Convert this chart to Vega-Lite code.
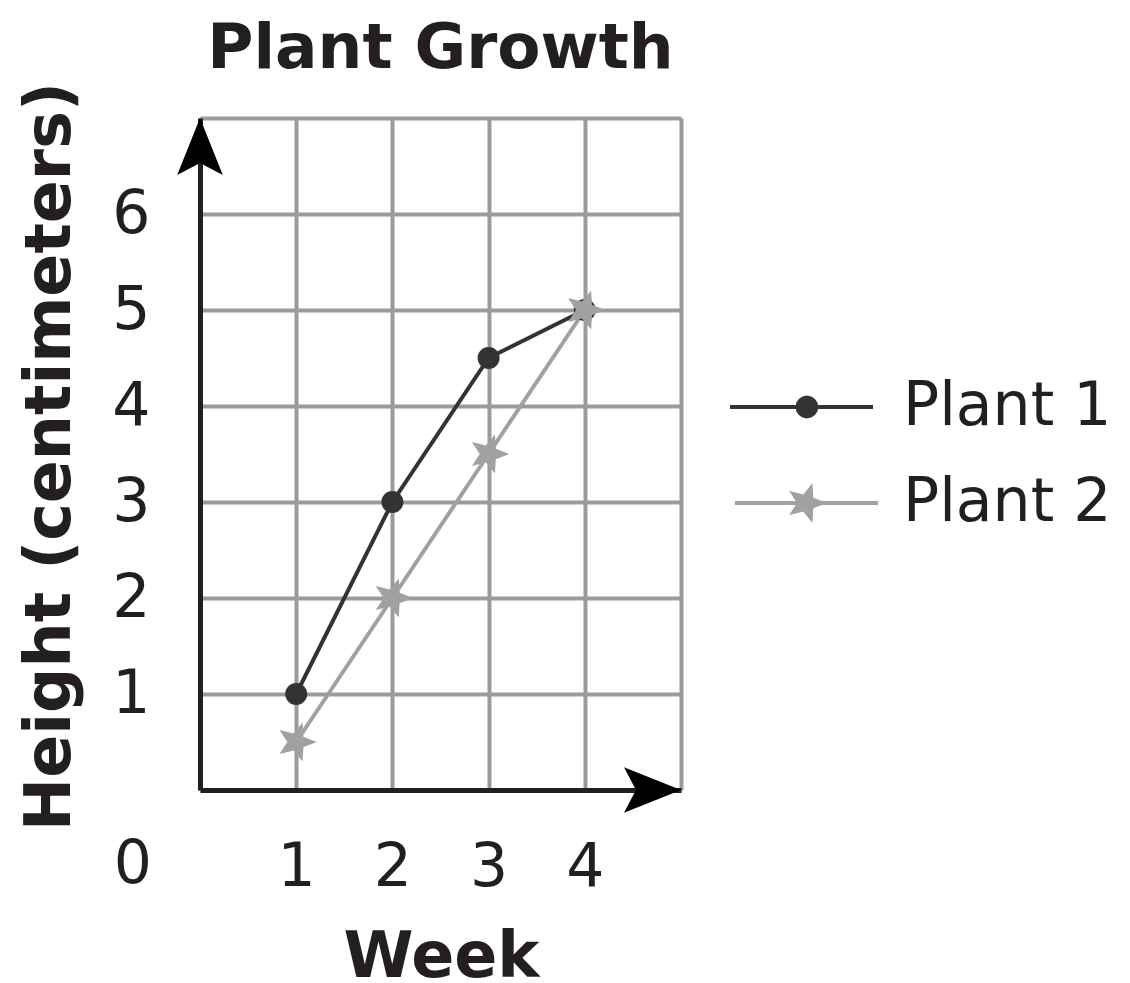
{
  "$schema": "https://vega.github.io/schema/vega-lite/v6.json",
  "width": 481,
  "height": 672,
  "autosize": "none",
  "padding": {"left": 200, "top": 118, "right": 449, "bottom": 193},
  "background": "white",
  "title": {"text": "Plant Growth", "font": "DejaVu Sans", "fontSize": 63, "fontWeight": "bold", "color": "#231f20", "anchor": "middle", "frame": "group", "baseline": "alphabetic", "offset": 18, "dy": 67},
  "config": {"view": {"stroke": null}, "font": "DejaVu Sans"},
  "encoding": {
    "x": {
      "field": "week", "type": "quantitative",
      "scale": {"domain": [0, 5], "nice": false, "zero": false},
      "axis": {
        "values": [0, 1, 2, 3, 4, 5],
        "labelExpr": "datum.value >= 1 && datum.value <= 4 ? datum.label : ''",
        "title": "Week",
        "grid": true, "gridColor": "#9b9b9e", "gridWidth": 4, "gridOpacity": 1,
        "domainColor": "#231f20", "domainWidth": 5,
        "ticks": false, "tickSize": 0,
        "labelPadding": 95, "labelBaseline": "alphabetic", "labelFontSize": 60, "labelColor": "#231f20", "labelFont": "DejaVu Sans",
        "labelFlush": false, "labelOverlap": false,
        "titleFont": "DejaVu Sans", "titleFontSize": 63.5, "titleFontWeight": "bold", "titleColor": "#231f20",
        "titleX": 241, "titleY": 186, "titleBaseline": "alphabetic", "titleAlign": "center"
      }
    },
    "y": {
      "field": "height", "type": "quantitative",
      "scale": {"domain": [0, 7], "nice": false, "zero": false},
      "axis": {
        "values": [0, 1, 2, 3, 4, 5, 6, 7],
        "labelExpr": "datum.value >= 1 && datum.value <= 6 ? datum.label : ''",
        "title": "Height (centimeters)",
        "grid": true, "gridColor": "#9b9b9e", "gridWidth": 4, "gridOpacity": 1,
        "domainColor": "#231f20", "domainWidth": 5,
        "ticks": false, "tickSize": 0,
        "labelPadding": 50, "labelBaseline": "middle", "labelAlign": "right", "labelFontSize": 60, "labelColor": "#231f20", "labelFont": "DejaVu Sans",
        "labelFlush": false, "labelOverlap": false,
        "titleFont": "DejaVu Sans", "titleFontSize": 63.5, "titleFontWeight": "bold", "titleColor": "#231f20",
        "titleX": -150, "titleY": 338, "titleAngle": -90, "titleBaseline": "middle", "titleAlign": "center"
      }
    }
  },
  "layer": [
    {
      "data": {"values": [
        {"week": 1, "height": 1, "plant": "Plant 1"},
        {"week": 2, "height": 3, "plant": "Plant 1"},
        {"week": 3, "height": 4.5, "plant": "Plant 1"},
        {"week": 4, "height": 5, "plant": "Plant 1"},
        {"week": 1, "height": 0.5, "plant": "Plant 2"},
        {"week": 2, "height": 2, "plant": "Plant 2"},
        {"week": 3, "height": 3.5, "plant": "Plant 2"},
        {"week": 4, "height": 5, "plant": "Plant 2"}
      ]},
      "encoding": {
        "color": {
          "field": "plant", "type": "nominal",
          "scale": {"domain": ["Plant 1", "Plant 2"], "range": ["#333333", "#a1a1a4"]},
          "legend": {
            "orient": "none", "legendX": 571.5, "legendY": 259, "title": null, "padding": 0,
            "symbolSize": 3600, "symbolStrokeWidth": 0, "symbolOpacity": 1,
            "labelFontSize": 60, "labelFont": "DejaVu Sans", "labelColor": "#231f20", "labelOffset": 71.5, "labelBaseline": "middle", "labelLimit": 0,
            "rowPadding": 36
          }
        }
      },
      "layer": [
        {"mark": {"type": "line", "strokeWidth": 4}},
        {
          "transform": [{"filter": "datum.plant === 'Plant 1'"}],
          "mark": {"type": "point", "filled": true, "opacity": 1, "shape": "circle", "size": 484}
        },
        {
          "transform": [{"filter": "datum.plant === 'Plant 2'"}],
          "mark": {"type": "point", "filled": true, "opacity": 1, "size": 1700, "shape": "M1,0L0.348,0.253L0.309,0.951L-0.133,0.408L-0.809,0.588L-0.43,0L-0.809,-0.588L-0.133,-0.408L0.309,-0.951L0.348,-0.253Z"}
        },
        {
          "data": {"values": []},
          "mark": {"type": "point", "filled": true, "opacity": 1},
          "encoding": {
            "shape": {
              "field": "plant", "type": "nominal",
              "scale": {"domain": ["Plant 1", "Plant 2"], "range": [
                "M-2.383,-0.067H2.383V0.067H-2.383ZM0.56,0L0.531,0.146L0.449,0.269L0.326,0.351L0.18,0.38L0.034,0.351L-0.089,0.269L-0.171,0.146L-0.2,0L-0.171,-0.146L-0.089,-0.269L0.034,-0.351L0.18,-0.38L0.326,-0.351L0.449,-0.269L0.531,-0.146Z",
                "M-2.217,-0.067H2.55V0.067H-2.217ZM0.85,0L0.393,0.176L0.366,0.666L0.057,0.285L-0.416,0.411L-0.15,0L-0.416,-0.411L0.057,-0.285L0.366,-0.666L0.393,-0.176Z"
              ]},
              "legend": {"title": null}
            }
          }
        }
      ]
    },
    {
      "data": {"values": [{"week": 0, "height": 7}]},
      "mark": {"type": "point", "filled": true, "opacity": 1, "color": "#000000", "strokeWidth": 0, "shape": "M0,0L0.4,1L0,0.79L-0.4,1Z", "size": 12996}
    },
    {
      "data": {"values": [{"week": 5, "height": 0}]},
      "mark": {"type": "point", "filled": true, "opacity": 1, "color": "#000000", "strokeWidth": 0, "shape": "M0,0L-1,-0.4L-0.79,0L-1,0.4Z", "size": 12996}
    },
    {
      "data": {"values": [{"week": 0, "height": 0, "label": "0"}]},
      "mark": {"type": "text", "align": "right", "baseline": "alphabetic", "dx": -48, "dy": 93, "fontSize": 60, "font": "DejaVu Sans", "color": "#231f20"},
      "encoding": {"text": {"field": "label"}}
    }
  ]
}
